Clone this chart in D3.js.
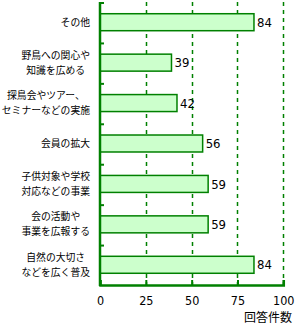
<!DOCTYPE html>
<html><head><meta charset="utf-8">
<script src="https://cdn.jsdelivr.net/npm/d3@7"></script>
<style>body{margin:0;background:#fff}svg{display:block}</style>
</head><body>
<script>
const categories = [
  ["その他"],
  ["野鳥への関心や","知識を広める"],
  ["探鳥会やツアー、","セミナーなどの実施"],
  ["会員の拡大"],
  ["子供対象や学校","対応などの事業"],
  ["会の活動や","事業を広報する"],
  ["自然の大切さ","などを広く普及"]
];
const values = [84, 39, 42, 56, 59, 59, 84];
const ticks = [0, 25, 50, 75, 100];
const axisTitle = "回答件数";

const W = 296, H = 324;
const green = "#008000";
const svg = d3.select("body").append("svg").attr("width", W).attr("height", H);
const jp = "'Noto Sans CJK JP', sans-serif";
const num = "'Liberation Sans Narrow', 'DejaVu Sans Condensed', sans-serif";

const x = d3.scaleLinear().domain([0, 100]).range([100, 283.3]);
const y = d3.scaleBand().domain(d3.range(categories.length)).range([2, 285]).paddingInner(0.58).paddingOuter(0.29);
const yb = d3.scaleBand().domain(d3.range(categories.length)).range([2, 285]);

// grid dashed
svg.append("g").selectAll("line").data(ticks.slice(1)).join("line")
  .attr("x1", d => Math.round(x(d)) + 0.5).attr("x2", d => Math.round(x(d)) + 0.5)
  .attr("y1", 2).attr("y2", 285)
  .attr("stroke", green).attr("stroke-width", 1.5).attr("stroke-dasharray", "4,4");

// bars
svg.append("g").selectAll("rect").data(values).join("rect")
  .attr("x", x(0)).attr("y", (d, i) => y(i))
  .attr("width", d => x(d) - x(0)).attr("height", y.bandwidth())
  .attr("fill", "#ccffcc").attr("stroke", green).attr("stroke-width", 1.5);

// value labels
svg.append("g").selectAll("text").data(values).join("text")
  .attr("x", d => x(d) + 3).attr("y", (d, i) => y(i) + y.bandwidth() / 2)
  .attr("dy", "0.36em").attr("font-family", num).attr("font-size", 13)
  .attr("fill", "#000").text(d => d);

// left axis
svg.append("line").attr("x1", 100).attr("x2", 100).attr("y1", 2).attr("y2", 286)
  .attr("stroke", green).attr("stroke-width", 2.5);
svg.append("g").selectAll("line").data(d3.range(categories.length)).join("line")
  .attr("x1", 100).attr("x2", 104).attr("y1", i => yb(i) + 1).attr("y2", i => yb(i) + 1)
  .attr("stroke", green).attr("stroke-width", 2);

// bottom axis
const xAxis = d3.axisBottom(x).tickValues(ticks).tickSize(-5).tickPadding(11);
const gx = svg.append("g").attr("transform", "translate(0,285)").call(xAxis);
gx.select(".domain").attr("stroke", green).attr("stroke-width", 2.5);
gx.selectAll(".tick line").attr("stroke", green).attr("stroke-width", 2);
gx.selectAll(".tick text").attr("font-family", num).attr("font-size", 12.5).attr("fill", "#000");

svg.append("text").attr("x", 292).attr("y", 318).attr("dy", "0.35em").attr("text-anchor", "end")
  .attr("font-family", jp).attr("font-size", 12).text(axisTitle);

// category labels: block right-aligned at 90, lines centered within block
const lab = svg.append("g").attr("font-family", jp).attr("font-size", 9.8).attr("fill", "#000");
categories.forEach((lines, i) => {
  const g = lab.append("g");
  const ts = lines.map((t, j) => g.append("text").attr("text-anchor", "middle")
    .attr("y", yb(i) + yb.bandwidth() / 2 + (j - (lines.length - 1) / 2) * 15).attr("dy", "0.35em").text(t));
  const maxW = d3.max(ts, t => t.node().getComputedTextLength());
  ts.forEach(t => t.attr("x", 90 - maxW / 2));
});
</script>
</body></html>
